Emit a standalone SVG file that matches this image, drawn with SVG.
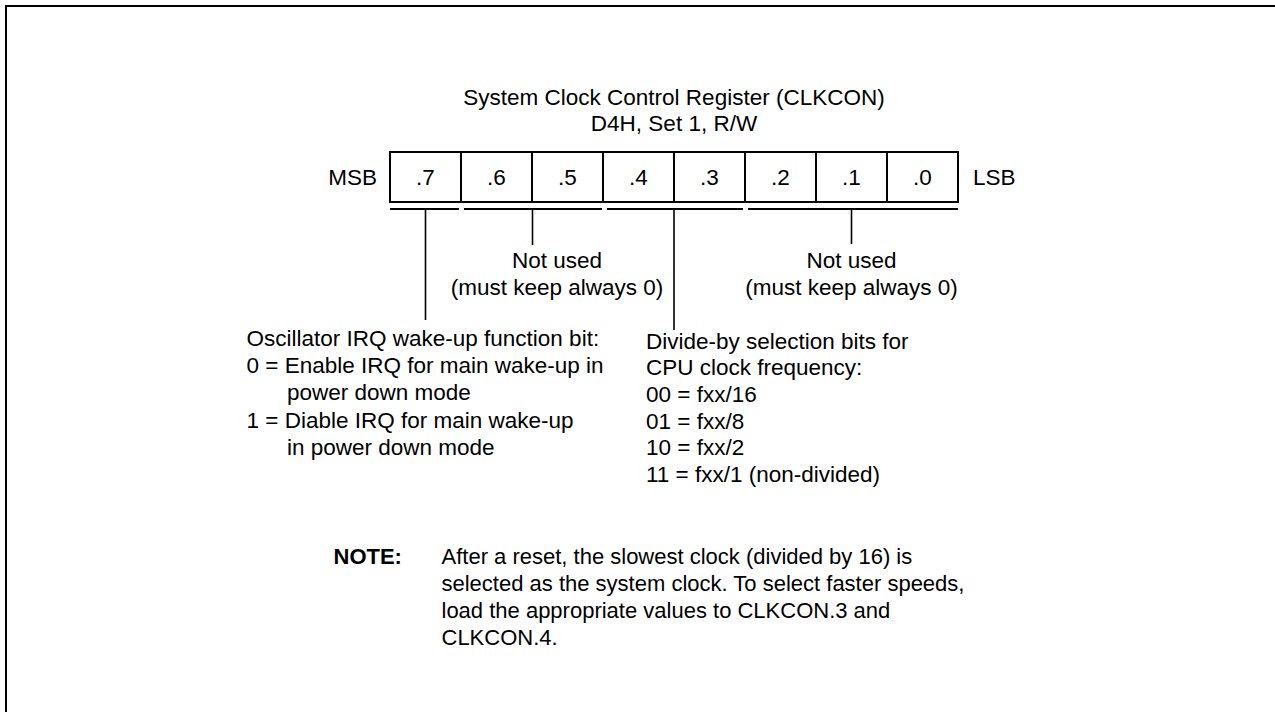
<svg xmlns="http://www.w3.org/2000/svg" width="1275" height="712" viewBox="0 0 1275 712">
<style>
text { font-family: "Liberation Sans", Arial, sans-serif; font-size: 22.5px; fill: #000; }
.c { text-anchor: middle; }
.b { font-weight: bold; }
.n { font-size: 22px; }
.ln { stroke: #000; fill: none; stroke-width: 2; }
.thin { stroke: #000; fill: none; stroke-width: 1.6; }
</style>
<rect x="0" y="0" width="1275" height="712" fill="#fff"/>
<path class="ln" d="M6,712 V6 H1275"/>

<g id="title">
<text class="c" x="674" y="105">System Clock Control Register (CLKCON)</text>
<text class="c" x="674" y="131">D4H, Set 1, R/W</text>
</g>

<g id="register">
<rect class="ln" x="390" y="152" width="568" height="50"/>
<path class="ln" d="M461,152V202 M532,152V202 M603,152V202 M674,152V202 M745,152V202 M816,152V202 M887,152V202"/>
<text x="377" y="185" style="text-anchor:end">MSB</text>
<text x="973" y="185">LSB</text>
<text class="c" x="425.5" y="185">.7</text>
<text class="c" x="496.5" y="185">.6</text>
<text class="c" x="567.5" y="185">.5</text>
<text class="c" x="638.5" y="185">.4</text>
<text class="c" x="709.5" y="185">.3</text>
<text class="c" x="780.5" y="185">.2</text>
<text class="c" x="851.5" y="185">.1</text>
<text class="c" x="922.5" y="185">.0</text>
</g>

<g id="connectors">
<path class="ln" d="M390,209H459 M464,209H602 M607,209H743 M748,209H958"/>
<path class="thin" d="M425.5,209V320 M532.5,209V245 M674,209V330 M851.5,209V244"/>
</g>

<g id="bit7">
<text x="246.5" y="346">Oscillator IRQ wake-up function bit:</text>
<text x="246.5" y="373">0 = Enable IRQ for main wake-up in</text>
<text x="287" y="400">power down mode</text>
<text x="246.5" y="427.5">1 = Diable IRQ for main wake-up</text>
<text x="287" y="455">in power down mode</text>
</g>

<g id="bits65">
<text class="c" x="557" y="268">Not used</text>
<text class="c" x="557" y="294.5">(must keep always 0)</text>
</g>

<g id="bits43">
<text x="646" y="348.5">Divide-by selection bits for</text>
<text x="646" y="375">CPU clock frequency:</text>
<text x="646" y="402">00 = fxx/16</text>
<text x="646" y="428.5">01 = fxx/8</text>
<text x="646" y="455">10 = fxx/2</text>
<text x="646" y="482">11 = fxx/1 (non-divided)</text>
</g>

<g id="bits20">
<text class="c" x="851.5" y="268">Not used</text>
<text class="c" x="851.5" y="294.5">(must keep always 0)</text>
</g>

<g id="note">
<text class="b n" x="333.5" y="563.5">NOTE:</text>
<text class="n" x="441.5" y="563.5">After a reset, the slowest clock (divided by 16) is</text>
<text class="n" x="441.5" y="590.5">selected as the system clock. To select faster speeds,</text>
<text class="n" x="441.5" y="617.5">load the appropriate values to CLKCON.3 and</text>
<text class="n" x="441.5" y="644.5">CLKCON.4.</text>
</g>
</svg>
